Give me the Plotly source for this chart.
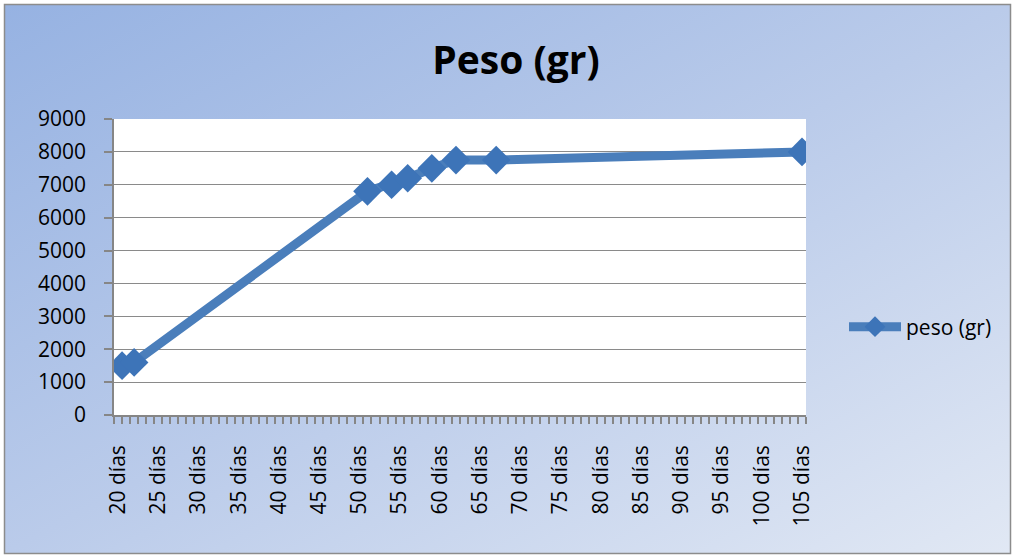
import base64
import plotly.graph_objects as go

# ---- data ----
dias = [20.5, 22, 51, 54, 56, 59, 62, 67, 105]
peso = [1500, 1600, 6800, 7000, 7200, 7500, 7750, 7750, 8000]
tick_dias = [20, 25, 30, 35, 40, 45, 50, 55, 60, 65, 70, 75, 80, 85, 90, 95, 100, 105]
tick_labels = ["20 días", "25 días", "30 días", "35 días", "40 días", "45 días",
               "50 días", "55 días", "60 días", "65 días", "70 días", "75 días",
               "80 días", "85 días", "90 días", "95 días", "100 días", "105 días"]
serie = "peso (gr)"
titulo = "Peso (gr)"

W, H = 1015, 558
L, R, T, B = 114, 209, 119, 143
pw, ph = W - L - R, H - T - B

svg = f'''<svg xmlns="http://www.w3.org/2000/svg" width="{W}" height="{H}" viewBox="0 0 {W} {H}" preserveAspectRatio="none">
<defs><linearGradient id="g" x1="0" y1="0" x2="1" y2="1">
<stop offset="0" stop-color="#96B2E2"/><stop offset="0.5" stop-color="#BACBEA"/><stop offset="1" stop-color="#E1E8F4"/>
</linearGradient></defs>
<rect x="0" y="0" width="{W}" height="{H}" fill="#ffffff"/>
<rect x="4.5" y="4.5" width="1006" height="549" fill="url(#g)" stroke="#8C8C8C" stroke-width="1.5"/>
</svg>'''
src = "data:image/svg+xml;base64," + base64.b64encode(svg.encode()).decode()

blue = "#4A7EBB"
font = "Open Sans"

fig = go.Figure()
fig.add_trace(go.Scatter(
    x=dias, y=peso, mode="lines+markers", name=serie,
    line=dict(color=blue, width=9),
    marker=dict(symbol="diamond", size=22, color="#3D74B8", line=dict(width=0)),
))

fig.update_layout(
    width=W, height=H,
    margin=dict(l=L, r=R, t=T, b=B, autoexpand=False),
    paper_bgcolor="#ffffff",
    plot_bgcolor="#ffffff",
    font=dict(family=font, color="#000000", size=21),
    title=dict(text=f"<b>{titulo}</b>", x=516 / W, y=1 - 60 / H, xref="container", yref="container",
               xanchor="center", yanchor="middle", font=dict(family=font, size=39, color="#000000")),
    showlegend=True,
    legend=dict(x=(844 - L) / pw, y=(T + ph - 327) / ph, xanchor="left", yanchor="middle",
                bgcolor="rgba(0,0,0,0)", itemwidth=52, font=dict(family=font, size=21)),
    images=[dict(source=src, xref="paper", yref="paper", x=-L / pw, y=(T + ph) / ph,
                 sizex=W / pw, sizey=H / ph, xanchor="left", yanchor="top",
                 sizing="stretch", layer="below")],
    shapes=[dict(type="rect", xref="paper", yref="paper", x0=0, x1=1, y0=0, y1=1,
                 fillcolor="#ffffff", line=dict(width=0), layer="below")],
)

fig.update_xaxes(
    range=[19.5, 105.5], tickmode="array", tickvals=tick_dias, ticktext=tick_labels,
    tickangle=-90, ticks="", ticklabelstandoff=20,
    showgrid=False, showline=True, linecolor="#868686", linewidth=1.5,
    minor=dict(ticks="outside", tick0=19.5, dtick=1, ticklen=7, tickcolor="#868686",
               tickwidth=1.5, showgrid=False),
    zeroline=False, fixedrange=True,
)
fig.update_yaxes(
    range=[0, 9000], tickmode="linear", tick0=0, dtick=1000,
    ticks="outside", ticklen=8, tickcolor="#868686", tickwidth=1.5, ticklabelstandoff=14,
    showgrid=True, gridcolor="#8A8A8A", gridwidth=1.2,
    showline=True, linecolor="#868686", linewidth=1.5,
    zeroline=False, fixedrange=True,
)

fig.write_html("out.html", post_script="document.body.style.margin='0';",
               config={"displayModeBar": False})
